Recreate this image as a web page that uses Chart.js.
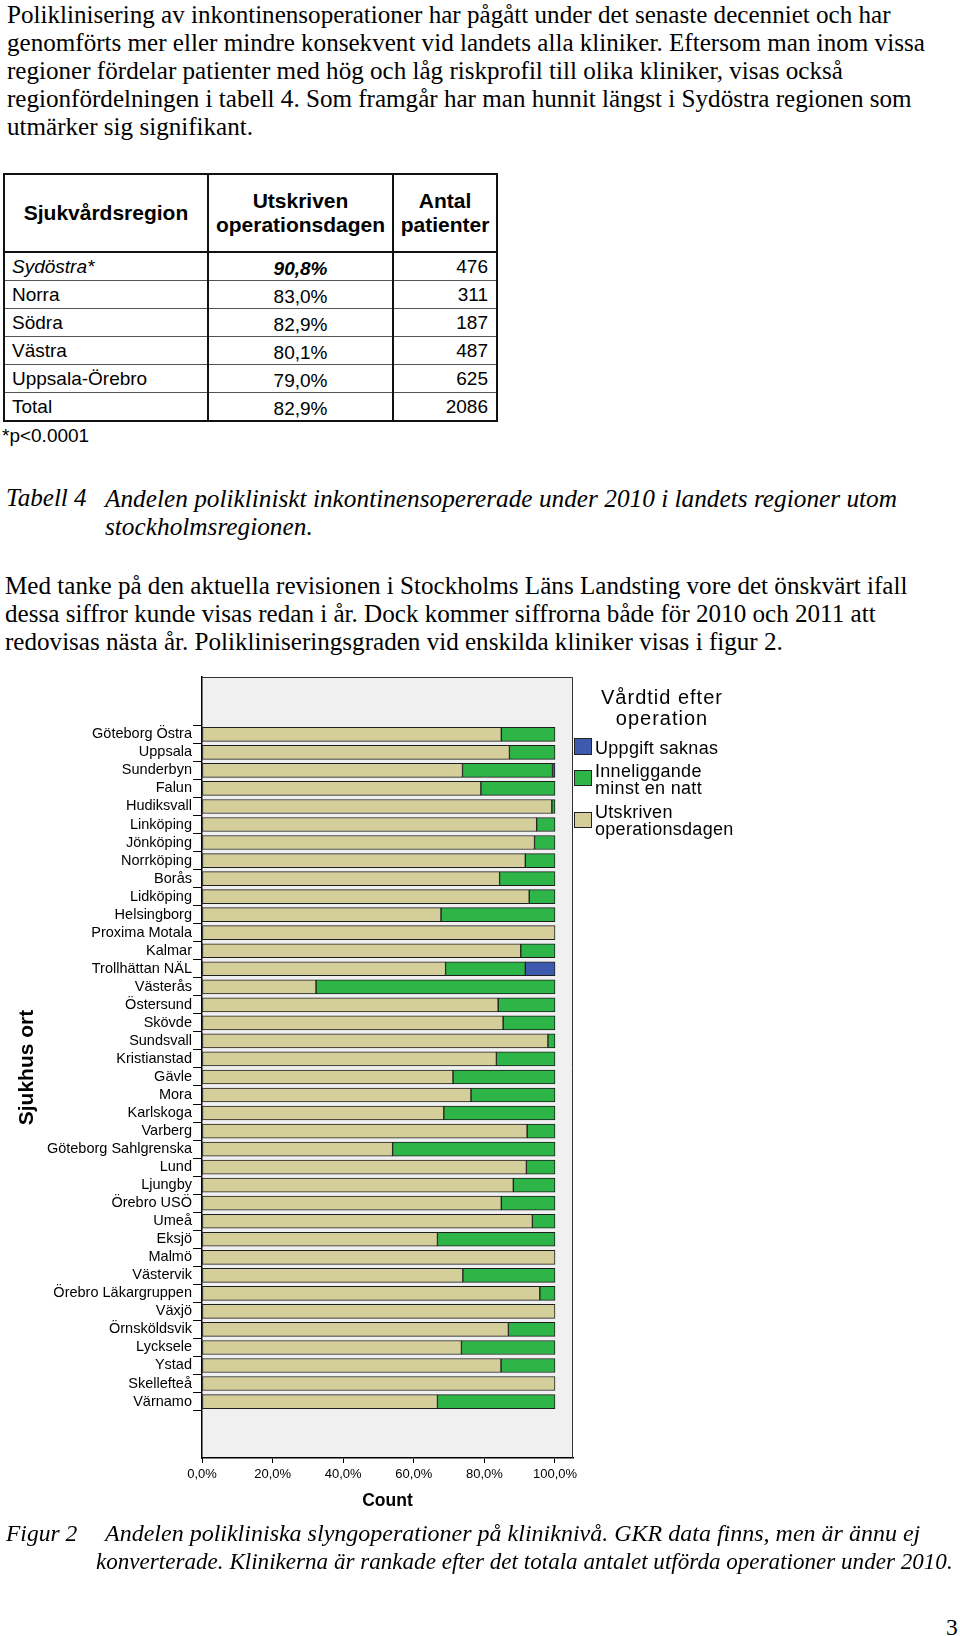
<!DOCTYPE html>
<html>
<head>
<meta charset="utf-8">
<script src="https://cdn.jsdelivr.net/npm/chart.js@4"></script>
<style>
  body { margin: 0; width: 960px; height: 1636px; overflow: hidden; background: #fff; position: relative; color: #000; }
  .serif { font-family: "Liberation Serif", "Times New Roman", serif; font-size: 25.1px; line-height: 28px; position: absolute; white-space: nowrap; }
  .ital { font-style: italic; }
  .sans { font-family: "Liberation Sans", Arial, sans-serif; position: absolute; white-space: nowrap; }
  #tbl { position: absolute; left: 3px; top: 173px; border-collapse: collapse; font-family: "Liberation Sans", Arial, sans-serif; font-size: 19px; }
  #tbl td, #tbl th { padding: 0; border-left: 2px solid #111; border-right: 2px solid #111; border-top: 1px solid #555; border-bottom: 1px solid #555; }
  #tbl th { font-size: 21px; font-weight: bold; line-height: 24px; border-top: 2px solid #111; border-bottom: 2px solid #111; height: 76px; }
  #tbl tr:last-child td { border-bottom: 2px solid #111; }
  #tbl td { height: 27px; }
  #tbl td.lab { padding-left: 7px; }
  #tbl td.pct { text-align: center; padding-top: 5px; height: 22px; }
  #tbl td.num { text-align: right; padding-right: 8px; }
  #chartBox { position: absolute; left: 0; top: 660px; width: 960px; height: 860px; }
  .lgBox { position: absolute; left: 574px; width: 16px; border: 1px solid #222; }
  .lgText { font-family: "Liberation Sans", Arial, sans-serif; font-size: 18px; letter-spacing: 0.3px; line-height: 17px; position: absolute; left: 595px; white-space: nowrap; }
</style>
</head>
<body>

<div class="serif" style="left:7px; top:1px;">Poliklinisering av inkontinensoperationer har pågått under det senaste decenniet och har<br>genomförts mer eller mindre konsekvent vid landets alla kliniker. Eftersom man inom vissa<br>regioner fördelar patienter med hög och låg riskprofil till olika kliniker, visas också<br>regionfördelningen i tabell 4. Som framgår har man hunnit längst i Sydöstra regionen som<br>utmärker sig signifikant.</div>

<table id="tbl">
  <tr>
    <th style="width:202px;">Sjukvårdsregion</th>
    <th style="width:183px;">Utskriven<br>operationsdagen</th>
    <th style="width:102px;">Antal<br>patienter</th>
  </tr>
  <tr><td class="lab"><i>Sydöstra*</i></td><td class="pct"><b><i>90,8%</i></b></td><td class="num">476</td></tr>
  <tr><td class="lab">Norra</td><td class="pct">83,0%</td><td class="num">311</td></tr>
  <tr><td class="lab">Södra</td><td class="pct">82,9%</td><td class="num">187</td></tr>
  <tr><td class="lab">Västra</td><td class="pct">80,1%</td><td class="num">487</td></tr>
  <tr><td class="lab">Uppsala-Örebro</td><td class="pct">79,0%</td><td class="num">625</td></tr>
  <tr><td class="lab">Total</td><td class="pct">82,9%</td><td class="num">2086</td></tr>
</table>
<div class="sans" style="left:2px; top:424px; font-size:19px; line-height:24px;">*p&lt;0.0001</div>

<div class="serif ital" style="left:6px; top:484px;">Tabell 4</div>
<div class="serif ital" style="left:105px; top:484px; font-size:25.3px;">Andelen polikliniskt inkontinensopererade under 2010 i landets regioner utom<br>stockholmsregionen.</div>

<div class="serif" style="left:5px; top:572px;">Med tanke på den aktuella revisionen i Stockholms Läns Landsting vore det önskvärt ifall<br>dessa siffror kunde visas redan i år. Dock kommer siffrorna både för 2010 och 2011 att<br>redovisas nästa år. Polikliniseringsgraden vid enskilda kliniker visas i figur 2.</div>

<div id="chartBox"><canvas id="chart" width="960" height="860"></canvas></div>

<div class="sans" style="left:562px; top:687px; width:200px; text-align:center; font-size:20px; letter-spacing:1px; line-height:21px;">Vårdtid efter<br>operation</div>
<div class="lgBox" id="lg0" style="top:738px; height:15px;"></div>
<div class="lgText" style="top:740px;">Uppgift saknas</div>
<div class="lgBox" id="lg1" style="top:770px; height:14px;"></div>
<div class="lgText" style="top:763px;">Inneliggande<br>minst en natt</div>
<div class="lgBox" id="lg2" style="top:812px; height:14px;"></div>
<div class="lgText" style="top:804px;">Utskriven<br>operationsdagen</div>

<div class="serif ital" style="left:6px; top:1519px; font-size:23.5px;">Figur 2</div>
<div class="serif ital" style="left:105px; top:1519px; font-size:24px;">Andelen polikliniska slyngoperationer på kliniknivå. GKR data finns, men är ännu ej</div>
<div class="serif ital" style="left:96px; top:1547px; font-size:23.1px;">konverterade. Klinikerna är rankade efter det totala antalet utförda operationer under 2010.</div>
<div class="serif" style="left:946px; top:1613px; font-size:23.5px;">3</div>

<script>
// Hospitals, ranked by total number of operations 2010
const hospitals = [
    "Göteborg Östra", "Uppsala", "Sunderbyn", "Falun", "Hudiksvall", "Linköping",
    "Jönköping", "Norrköping", "Borås", "Lidköping", "Helsingborg", "Proxima Motala",
    "Kalmar", "Trollhättan NÄL", "Västerås", "Östersund", "Skövde", "Sundsvall",
    "Kristianstad", "Gävle", "Mora", "Karlskoga", "Varberg", "Göteborg Sahlgrenska",
    "Lund", "Ljungby", "Örebro USÖ", "Umeå", "Eksjö", "Malmö", "Västervik",
    "Örebro Läkargruppen", "Växjö", "Örnsköldsvik", "Lycksele", "Ystad", "Skellefteå", "Värnamo"
];

// Percent per hospital
const utskriven = [
    84.8, 87.1, 73.8, 79.0, 99.1, 94.8,
    94.2, 91.6, 84.3, 92.7, 67.7, 100,
    90.3, 69.0, 32.3, 83.9, 85.3, 98.0,
    83.4, 71.1, 76.2, 68.5, 92.1, 54.0,
    91.9, 88.2, 84.8, 93.6, 66.7, 100, 73.9,
    95.7, 100, 86.8, 73.5, 84.7, 100, 66.7
];
const inneliggande = [
    15.2, 12.9, 25.5, 21.0, 0.9, 5.2,
    5.8, 8.4, 15.7, 7.3, 32.3, 0,
    9.7, 22.6, 67.7, 16.1, 14.7, 2.0,
    16.6, 28.9, 23.8, 31.5, 7.9, 46.0,
    8.1, 11.8, 15.2, 6.4, 33.3, 0, 26.1,
    4.3, 0, 13.2, 26.5, 15.3, 0, 33.3
];
const uppgiftSaknas = [
    0, 0, 0.7, 0, 0, 0,
    0, 0, 0, 0, 0, 0,
    0, 8.4, 0, 0, 0, 0,
    0, 0, 0, 0, 0, 0,
    0, 0, 0, 0, 0, 0, 0,
    0, 0, 0, 0, 0, 0, 0
];

const xTicks = [0, 20, 40, 60, 80, 100];

const colTan = "#d4ce9a";
const colGreen = "#2db548";
const colBlue = "#3e5aaf";

document.getElementById("lg0").style.background = colBlue;
document.getElementById("lg1").style.background = colGreen;
document.getElementById("lg2").style.background = colTan;

function toPoints(values) {
    return values.map((v, i) => ({ x: v, y: i }));
}

// gray plot background + frame
const plotFrame = {
    id: "plotFrame",
    beforeDraw(chart) {
        const a = chart.chartArea;
        const ctx = chart.ctx;
        ctx.save();
        ctx.fillStyle = "#f0f0f0";
        ctx.fillRect(a.left, a.top, a.right - a.left, a.bottom - a.top);
        ctx.restore();
    },
    afterDraw(chart) {
        const a = chart.chartArea;
        const ctx = chart.ctx;
        ctx.save();
        ctx.strokeStyle = "#333";
        ctx.lineWidth = 1;
        ctx.beginPath();
        ctx.moveTo(a.left, a.top + 0.5);
        ctx.lineTo(a.right - 0.5, a.top + 0.5);
        ctx.lineTo(a.right - 0.5, a.bottom);
        ctx.stroke();
        ctx.restore();
    }
};

const barStyle = { borderColor: "#1e1e1e", borderWidth: 1, borderSkipped: false, barThickness: 14 };

new Chart(document.getElementById("chart"), {
    type: "bar",
    data: {
        datasets: [
            Object.assign({ label: "Utskriven operationsdagen", data: toPoints(utskriven), backgroundColor: colTan }, barStyle),
            Object.assign({ label: "Inneliggande minst en natt", data: toPoints(inneliggande), backgroundColor: colGreen }, barStyle),
            Object.assign({ label: "Uppgift saknas", data: toPoints(uppgiftSaknas), backgroundColor: colBlue }, barStyle)
        ]
    },
    options: {
        indexAxis: "y",
        responsive: false,
        animation: false,
        devicePixelRatio: 1,
        layout: { padding: { top: 17, right: 387, left: 0, bottom: 0 } },
        plugins: { legend: { display: false }, tooltip: { enabled: false } },
        scales: {
            x: {
                type: "linear",
                stacked: true,
                min: 0,
                max: 105.1,
                afterBuildTicks: scale => { scale.ticks = xTicks.map(v => ({ value: v })); },
                afterFit: scale => { scale.height = 62; },
                ticks: {
                    color: "#000",
                    padding: 4,
                    font: { family: "Liberation Sans, Arial", size: 13 },
                    callback: v => v.toFixed(1).replace(".", ",") + "%"
                },
                grid: { drawOnChartArea: false, drawTicks: true, tickLength: 5, color: "#000" },
                border: { color: "#000", width: 1.5 },
                title: {
                    display: true,
                    text: "Count",
                    color: "#000",
                    padding: { top: 8, bottom: 8.5 },
                    font: { family: "Liberation Sans, Arial", size: 17.5, weight: "bold" }
                }
            },
            y: {
                type: "linear",
                stacked: true,
                reverse: true,
                min: -2.61,
                max: 39.56,
                afterBuildTicks: scale => { scale.ticks = hospitals.map((h, i) => ({ value: i })); },
                afterFit: scale => { scale.width = 202; },
                ticks: {
                    color: "#000",
                    padding: 1,
                    autoSkip: false,
                    font: { family: "Liberation Sans, Arial", size: 14.5 },
                    callback: v => hospitals[v]
                },
                grid: { drawOnChartArea: false, drawTicks: true, tickLength: 9, color: "#000" },
                border: { color: "#000", width: 1.5 },
                title: {
                    display: true,
                    text: "Sjukhus ort",
                    color: "#000",
                    padding: { top: 15, bottom: 0 },
                    font: { family: "Liberation Sans, Arial", size: 21, weight: "bold" }
                }
            }
        }
    },
    plugins: [plotFrame]
});
</script>
</body>
</html>
